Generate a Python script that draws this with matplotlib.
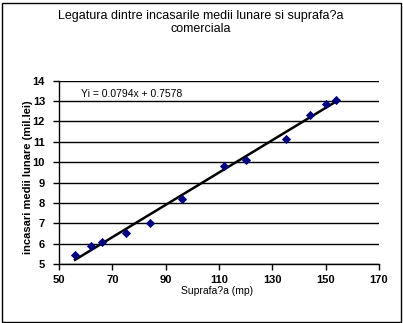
import matplotlib
matplotlib.use("Agg")
import matplotlib.pyplot as plt
from matplotlib.patches import Rectangle
import numpy as np

plt.rcParams['font.family'] = ['Liberation Sans', 'DejaVu Sans']

# suprafata (mp) vs incasari medii lunare (mil. lei)
suprafata = [56, 62, 66, 75, 84, 96, 112, 120, 135, 144, 150, 154]
incasari = [5.45, 5.9, 6.1, 6.5, 7.0, 8.2, 9.8, 10.1, 11.15, 12.3, 12.88, 13.07]
panta, interceptie = 0.0794, 0.7578
x_ticks = [50, 70, 90, 110, 130, 150, 170]
y_ticks = [5, 6, 7, 8, 9, 10, 11, 12, 13, 14]

W, H = 403, 323
fig = plt.figure(figsize=(W / 100, H / 100), dpi=100)
ax = fig.add_axes([59 / W, 1 - 264 / H, (379 - 59) / W, (264 - 80.7) / H])

ax.scatter(suprafata, incasari, marker='D', s=22, color='#000080', zorder=3, linewidths=0)
xl = np.array([min(suprafata), max(suprafata)])
ax.plot(xl, panta * xl + interceptie, color='black', lw=1.8, zorder=2)

ax.set_xlim(50, 170)
ax.set_ylim(5, 14)
ax.set_xticks(x_ticks)
ax.set_yticks(y_ticks)
ax.yaxis.grid(True, color='black', lw=1)
ax.set_axisbelow(True)
for s in ['top', 'right']:
    ax.spines[s].set_visible(False)
for s in ['left', 'bottom']:
    ax.spines[s].set_linewidth(1)
ax.tick_params(axis='both', length=4, width=1, labelsize=8)
ax.tick_params(axis='x', pad=4)
ax.tick_params(axis='y', pad=6)
for lab in ax.get_xticklabels() + ax.get_yticklabels():
    lab.set_fontweight('bold')

ax.text(58.2, 13.35, 'Yi = 0.0794x + 0.7578', fontsize=7.5, va='center', ha='left')

fig.text(201 / W, 1 - 22.5 / H,
         'Legatura dintre incasarile medii lunare si suprafa?a\ncomerciala',
         ha='center', va='center', fontsize=9, linespacing=1.2)
fig.text(217 / W, 1 - 291 / H, 'Suprafa?a (mp)', ha='center', va='center', fontsize=7.5)
fig.text(28 / W, 1 - 177 / H, 'incasari medii lunare (mil.lei)', rotation=90,
         ha='center', va='center', fontsize=8, fontweight='bold')

fig.patches.append(Rectangle((1.5 / W, 1.5 / H), (W - 4) / W, (H - 4) / H,
                             transform=fig.transFigure, fill=False,
                             edgecolor='black', lw=1))

fig.savefig('out.png', dpi=100)
